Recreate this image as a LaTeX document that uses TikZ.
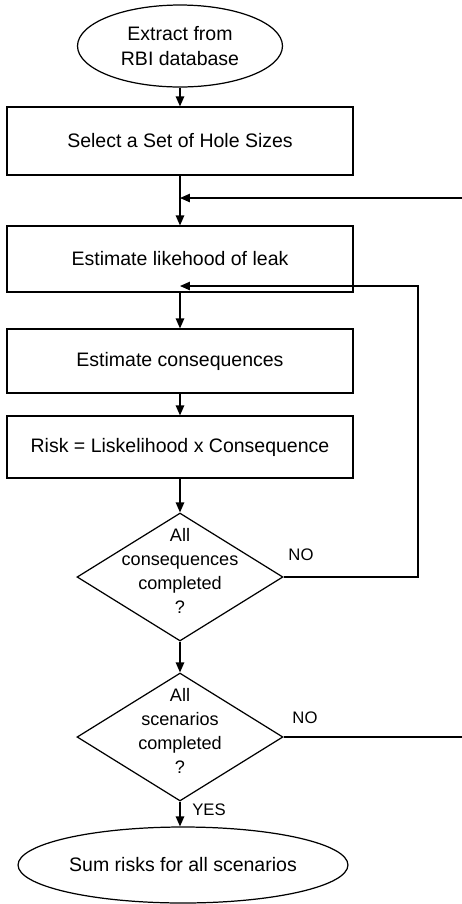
\documentclass[tikz,border=0pt]{standalone}
\usepackage{fontspec}
\setmainfont{Liberation Sans}
\usepackage{tikz}
\usetikzlibrary{positioning,arrows.meta,shapes.geometric}
\newcommand*\stepfont{\fontsize{11.1}{13.7}\selectfont}
\newcommand*\decfont{\fontsize{10.3}{13.7}\selectfont}
\newcommand*\lblfont{\fontsize{9.5}{11}\selectfont}
\newcommand\dectext[1]{\smash{\makebox[0pt]{\begin{tabular}{@{}c@{}}#1\end{tabular}}}}
\tikzset{
  stepbox/.style={draw,rectangle,minimum width=6.92cm,inner sep=0pt,font=\stepfont},
  term/.style={draw,ellipse,inner sep=0pt,align=center,font=\stepfont},
  decide/.style={draw,diamond,minimum width=4.12cm,minimum height=2.56cm,inner sep=0pt,font=\decfont},
  lbl/.style={font=\lblfont,inner sep=0pt},
  arr/.style={-{Triangle[length=0.2cm,width=0.17cm]}}
}

\begin{document}
\begin{tikzpicture}[x=0.02cm,y=-0.02cm,line width=0.7pt]
\useasboundingbox (0,0) rectangle (462,904);
% Terminals
\node[term,minimum width=4.1cm,minimum height=1.64cm] (start) at (180,46) {Extract from\\RBI database};
\node[term,minimum width=6.6cm,minimum height=1.52cm] (finish) at (183,865) {Sum risks for all scenarios};
% Steps
\node[stepbox,minimum height=1.36cm] (holes) at (180,141) {Select a Set of Hole Sizes};
\node[stepbox,minimum height=1.32cm] (leak) at (180,259) {Estimate likehood of leak};
\node[stepbox,minimum height=1.28cm] (cons) at (180,361) {Estimate consequences};
\node[stepbox,minimum height=1.24cm] (risk) at (180,447) {Risk = Liskelihood x Consequence};
% Decisions
\node[decide] (allcons) at (180,577) {\dectext{All\\consequences\\completed\\?}};
\node[decide] (allscen) at (180,737) {\dectext{All\\scenarios\\completed\\?}};
% Joins and free ends
\coordinate (j1) at (180,198);
\coordinate (j2) at (180,286);
\coordinate (r1) at (462,198);
\coordinate (r2) at (462,737);
\coordinate (loopx) at (418,0);
% Main flow
\draw[arr] (start) -- (holes);
\draw[arr] (holes) -- (leak);
\draw[arr] (leak) -- (cons);
\draw[arr] (cons) -- (risk);
\draw[arr] (risk) -- (allcons);
\draw[arr] (allcons) -- (allscen);
\draw[arr] (allscen.south) -- (allscen.south |- finish.north);
% Loops
\draw[arr] (r1) -- (j1);
\draw[arr] (allcons.east) -- (allcons.east -| loopx) |- (j2);
\draw (allscen.east) -- (r2);
% Labels
\node[lbl] (no1) at (301,555) {NO};
\node[lbl] (no2) at (305,718) {NO};
\node[lbl] (yes) at (209,810) {YES};
\end{tikzpicture}
\end{document}
